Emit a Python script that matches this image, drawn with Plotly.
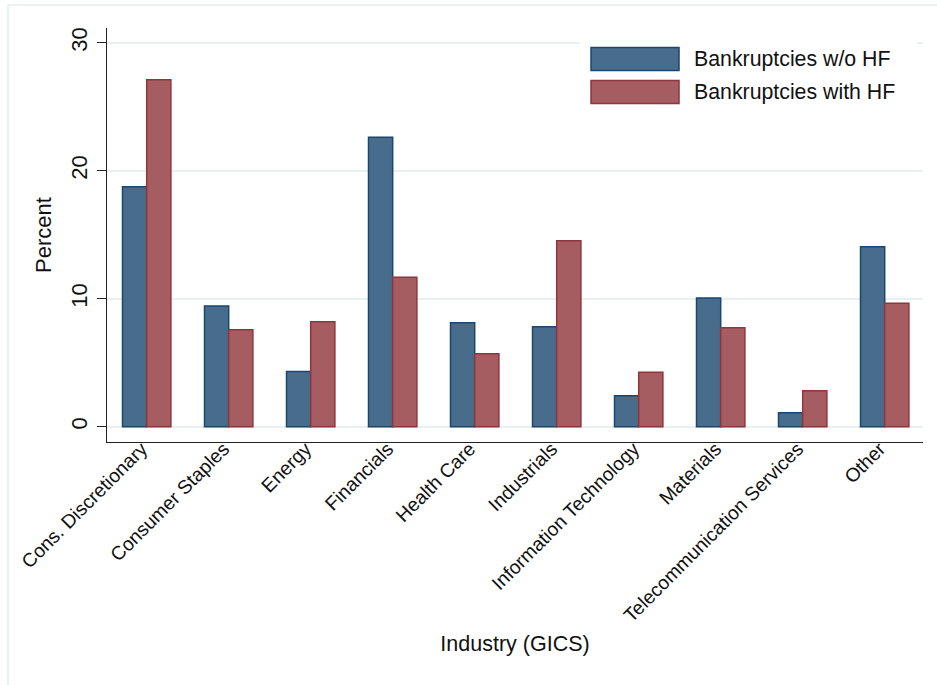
import plotly.graph_objects as go

# Share of bankruptcies by GICS industry, with and without hedge-fund involvement
industries = [
    "Cons. Discretionary", "Consumer Staples", "Energy", "Financials", "Health Care",
    "Industrials", "Information Technology", "Materials",
    "Telecommunication Services", "Other",
]
without_hf = [18.75, 9.43, 4.30, 22.61, 8.12, 7.81, 2.42, 10.05, 1.09, 14.06]
with_hf = [27.11, 7.58, 8.20, 11.67, 5.70, 14.53, 4.25, 7.73, 2.81, 9.64]
series_names = ["Bankruptcies w/o HF", "Bankruptcies with HF"]
y_ticks = [0, 10, 20, 30]

FILL = ["#486c8c", "#a65d62"]
EDGE = ["#1a476f", "#90353b"]
FONT = "Liberation Sans, Arial, Helvetica, sans-serif"

W, H = 937, 685
L, R, T, B = 107, 923, 28, 442  # plot area in pixels


def px(x):
    return (x - L) / (R - L)


def py(y):
    return (B - y) / (B - T)


fig = go.Figure()
for name, vals, fill, edge in zip(series_names, [without_hf, with_hf], FILL, EDGE):
    fig.add_trace(go.Bar(
        x=industries, y=vals, name=name,
        marker=dict(color=fill, line=dict(color=edge, width=1.5)),
        showlegend=False,
    ))

shapes = [
    # light outer frame of the graph region
    dict(type="line", xref="paper", yref="paper", x0=px(8), x1=px(940), y0=py(5), y1=py(5),
         line=dict(color="#e6eef0", width=1.5)),
    dict(type="line", xref="paper", yref="paper", x0=px(8), x1=px(8), y0=py(5), y1=py(690),
         line=dict(color="#e6eef0", width=1.5)),
    # legend background
    dict(type="rect", xref="paper", yref="paper", x0=px(580), x1=px(917), y0=py(112), y1=py(37),
         fillcolor="white", line=dict(width=0)),
]
annotations = []
swatch_rows = [(47.5, 70.5), (80.5, 103.5)]
for (top, bot), name, fill, edge in zip(swatch_rows, series_names, FILL, EDGE):
    shapes.append(dict(type="rect", xref="paper", yref="paper",
                       x0=px(591), x1=px(679), y0=py(bot), y1=py(top),
                       fillcolor=fill, line=dict(color=edge, width=1.5)))
    annotations.append(dict(xref="paper", yref="paper", x=px(692), y=py((top + bot) / 2),
                            text=name, showarrow=False, xanchor="left", yanchor="middle",
                            font=dict(family=FONT, size=21.3, color="#111")))

fig.update_layout(
    width=W, height=H,
    margin=dict(l=L, r=W - R, t=T, b=H - B),
    paper_bgcolor="white", plot_bgcolor="white",
    barmode="group", bargap=0.41, bargroupgap=0,
    font=dict(family=FONT, color="#111"),
    shapes=shapes, annotations=annotations,
    xaxis=dict(
        type="category", range=[-0.484, 9.467],
        showline=True, linecolor="#222", linewidth=1.2,
        showgrid=False, ticks="", tickangle=-45,
        ticklabelstandoff=-13, ticklabelshift=-5,
        tickfont=dict(size=19.3, color="#111"),
        title=dict(text="Industry (GICS)", font=dict(size=21.5, color="#111"), standoff=10),
        automargin=False,
    ),
    yaxis=dict(
        range=[-1.2, 31.15], tickvals=y_ticks,
        showline=True, linecolor="#222", linewidth=1.2,
        ticks="outside", ticklen=9, tickcolor="#222", tickwidth=1.2,
        tickangle=-90, ticklabelstandoff=1,
        tickfont=dict(size=22, color="#111"),
        showgrid=True, gridcolor="#e8f0f2", gridwidth=1.5,
        zeroline=False,
        title=dict(text="Percent", font=dict(size=22, color="#111"), standoff=9),
        automargin=False,
    ),
)

fig.write_html("out.html")
